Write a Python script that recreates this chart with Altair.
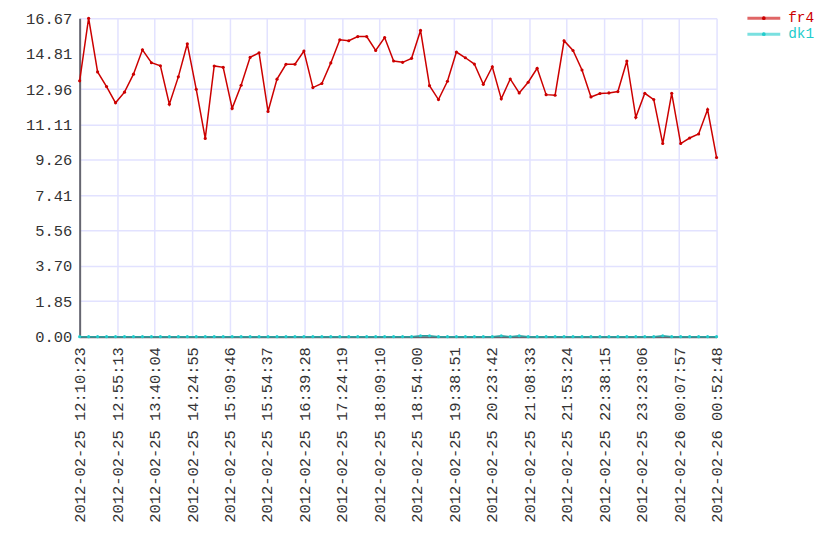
import altair as alt
import pandas as pd

times = [
    "2012-02-25 12:10:23", "2012-02-25 12:21:07", "2012-02-25 12:31:52", "2012-02-25 12:42:36",
    "2012-02-25 12:53:20", "2012-02-25 13:04:04", "2012-02-25 13:14:49", "2012-02-25 13:25:33",
    "2012-02-25 13:36:17", "2012-02-25 13:47:02", "2012-02-25 13:57:46", "2012-02-25 14:08:30",
    "2012-02-25 14:19:15", "2012-02-25 14:29:59", "2012-02-25 14:40:43", "2012-02-25 14:51:27",
    "2012-02-25 15:02:12", "2012-02-25 15:12:56", "2012-02-25 15:23:40", "2012-02-25 15:34:25",
    "2012-02-25 15:45:09", "2012-02-25 15:55:53", "2012-02-25 16:06:38", "2012-02-25 16:17:22",
    "2012-02-25 16:28:06", "2012-02-25 16:38:50", "2012-02-25 16:49:35", "2012-02-25 17:00:19",
    "2012-02-25 17:11:03", "2012-02-25 17:21:48", "2012-02-25 17:32:32", "2012-02-25 17:43:16",
    "2012-02-25 17:54:00", "2012-02-25 18:04:45", "2012-02-25 18:15:29", "2012-02-25 18:26:13",
    "2012-02-25 18:36:58", "2012-02-25 18:47:42", "2012-02-25 18:58:26", "2012-02-25 19:09:11",
    "2012-02-25 19:19:55", "2012-02-25 19:30:39", "2012-02-25 19:41:23", "2012-02-25 19:52:08",
    "2012-02-25 20:02:52", "2012-02-25 20:13:36", "2012-02-25 20:24:21", "2012-02-25 20:35:05",
    "2012-02-25 20:45:49", "2012-02-25 20:56:34", "2012-02-25 21:07:18", "2012-02-25 21:18:02",
    "2012-02-25 21:28:46", "2012-02-25 21:39:31", "2012-02-25 21:50:15", "2012-02-25 22:00:59",
    "2012-02-25 22:11:44", "2012-02-25 22:22:28", "2012-02-25 22:33:12", "2012-02-25 22:43:56",
    "2012-02-25 22:54:41", "2012-02-25 23:05:25", "2012-02-25 23:16:09", "2012-02-25 23:26:54",
    "2012-02-25 23:37:38", "2012-02-25 23:48:22", "2012-02-25 23:59:07", "2012-02-26 00:09:51",
    "2012-02-26 00:20:35", "2012-02-26 00:31:19", "2012-02-26 00:42:04", "2012-02-26 00:52:48",
]

fr4 = [13.39, 16.67, 13.86, 13.09, 12.24, 12.80, 13.74, 15.02, 14.34, 14.18,
       12.17, 13.60, 15.33, 12.95, 10.38, 14.17, 14.10, 11.95, 13.16, 14.62,
       14.86, 11.79, 13.48, 14.26, 14.26, 14.95, 13.04, 13.25, 14.33, 15.54,
       15.49, 15.71, 15.71, 14.98, 15.66, 14.43, 14.36, 14.57, 16.03, 13.14,
       12.41, 13.37, 14.90, 14.60, 14.27, 13.21, 14.13, 12.45, 13.49, 12.76,
       13.32, 14.05, 12.67, 12.64, 15.49, 14.98, 13.96, 12.55, 12.73, 12.76,
       12.83, 14.43, 11.48, 12.74, 12.41, 10.11, 12.74, 10.11, 10.40, 10.61,
       11.89, 9.38]

dk1 = [0.0, 0.0, 0.0, 0.0, 0.0, 0.0, 0.0, 0.0, 0.0, 0.0,
       0.0, 0.0, 0.0, 0.0, 0.0, 0.0, 0.0, 0.0, 0.0, 0.0,
       0.0, 0.0, 0.0, 0.0, 0.0, 0.0, 0.0, 0.0, 0.0, 0.0,
       0.0, 0.0, 0.0, 0.0, 0.0, 0.0, 0.0, 0.0, 0.05, 0.05,
       0.0, 0.0, 0.0, 0.0, 0.0, 0.0, 0.0, 0.05, 0.0, 0.05,
       0.0, 0.0, 0.0, 0.0, 0.0, 0.0, 0.0, 0.0, 0.0, 0.0,
       0.0, 0.0, 0.0, 0.0, 0.0, 0.05, 0.0, 0.0, 0.0, 0.0,
       0.0, 0.0]

series_names = ["fr4", "dk1"]
line_colors = ["#cc0000", "#2a9f9f"]
point_colors = ["#cc0000", "#22cccc"]
text_colors = ["#cc1111", "#33cccc"]

x_tick_labels = [
    "2012-02-25 12:10:23", "2012-02-25 12:55:13", "2012-02-25 13:40:04", "2012-02-25 14:24:55",
    "2012-02-25 15:09:46", "2012-02-25 15:54:37", "2012-02-25 16:39:28", "2012-02-25 17:24:19",
    "2012-02-25 18:09:10", "2012-02-25 18:54:00", "2012-02-25 19:38:51", "2012-02-25 20:23:42",
    "2012-02-25 21:08:33", "2012-02-25 21:53:24", "2012-02-25 22:38:15", "2012-02-25 23:23:06",
    "2012-02-26 00:07:57", "2012-02-26 00:52:48",
]
y_ticks = [0.0, 1.85, 3.70, 5.56, 7.41, 9.26, 11.11, 12.96, 14.81, 16.67]

FONT = "Liberation Mono"
FS = 15.5
LEG_FS = 14.5


def to_ms(s):
    return int(pd.Timestamp(s).value // 1_000_000)


t_ms = [to_ms(s) for s in times]
x_tick_ms = [to_ms(s) for s in x_tick_labels]

df = pd.DataFrame({
    "t": t_ms * 2,
    "value": fr4 + dk1,
    "series": ["fr4"] * len(fr4) + ["dk1"] * len(dk1),
})

x_enc = alt.X(
    "t:Q",
    scale=alt.Scale(domain=[x_tick_ms[0], x_tick_ms[-1]], nice=False, zero=False),
    axis=alt.Axis(
        values=x_tick_ms,
        labelExpr="utcFormat(datum.value, '%Y-%m-%d %H:%M:%S')",
        labelAngle=-90,
        title=None,
        ticks=False,
        labelPadding=10,
        grid=True,
        domainColor="#666670",
        domainWidth=2,
        labelFlush=False,
        labelOverlap=False,
    ),
)
y_enc = alt.Y(
    "value:Q",
    scale=alt.Scale(domain=[0, 16.67], nice=False, zero=True),
    axis=alt.Axis(
        values=y_ticks,
        format=".2f",
        title=None,
        ticks=False,
        labelPadding=8,
        grid=True,
        domainColor="#666670",
        domainWidth=2,
        minExtent=67,
        labelFlush=False,
        labelOverlap=False,
    ),
)

line_color = alt.Color("series:N", scale=alt.Scale(domain=series_names, range=line_colors), legend=None)
pt_color = alt.Color("series:N", scale=alt.Scale(domain=series_names, range=point_colors), legend=None)

base = alt.Chart(df).encode(x=x_enc, y=y_enc)
lines = base.mark_line(strokeWidth=1.5, clip=False).encode(
    color=line_color, detail="series:N", order=alt.Order("t:Q"),
)
points = base.mark_point(filled=True, size=10, opacity=1, clip=False).encode(
    color=pt_color,
)

main = alt.layer(lines, points).resolve_scale(color="independent").properties(width=640, height=320)

leg_df = pd.DataFrame({"series": series_names})
leg_y = alt.Y("series:N", sort=series_names, scale=alt.Scale(type="point", padding=0), axis=None)
leg_line = alt.Chart(leg_df).mark_rule(strokeWidth=3, opacity=0.6).encode(
    y=leg_y, x=alt.value(0), x2=alt.value(33),
    color=alt.Color("series:N", scale=alt.Scale(domain=series_names, range=point_colors), legend=None),
)
leg_pt = alt.Chart(leg_df).mark_point(filled=True, size=14, opacity=1).encode(
    y=leg_y, x=alt.value(16.5),
    color=alt.Color("series:N", scale=alt.Scale(domain=series_names, range=point_colors), legend=None),
)
leg_text = alt.Chart(leg_df).mark_text(align="left", baseline="middle", font=FONT, fontSize=LEG_FS).encode(
    y=leg_y, x=alt.value(41), text="series:N",
    color=alt.Color("series:N", scale=alt.Scale(domain=series_names, range=text_colors), legend=None),
)
legend = alt.layer(leg_line, leg_pt, leg_text).properties(width=80, height=16)

chart = alt.hconcat(main, legend, spacing=31, bounds="flush").properties(
    padding={"left": 5, "top": 1, "right": 5, "bottom": 5}
).configure_view(stroke=None).configure_axis(
    labelFont=FONT,
    labelFontSize=FS,
    labelColor="#333333",
    gridColor="#e2e2ff",
    gridWidth=1.5,
    gridOpacity=1,
    labelOverlap=False,
).configure_concat(spacing=31)

chart.save("out.html", embed_options={"renderer": "svg", "actions": False})
